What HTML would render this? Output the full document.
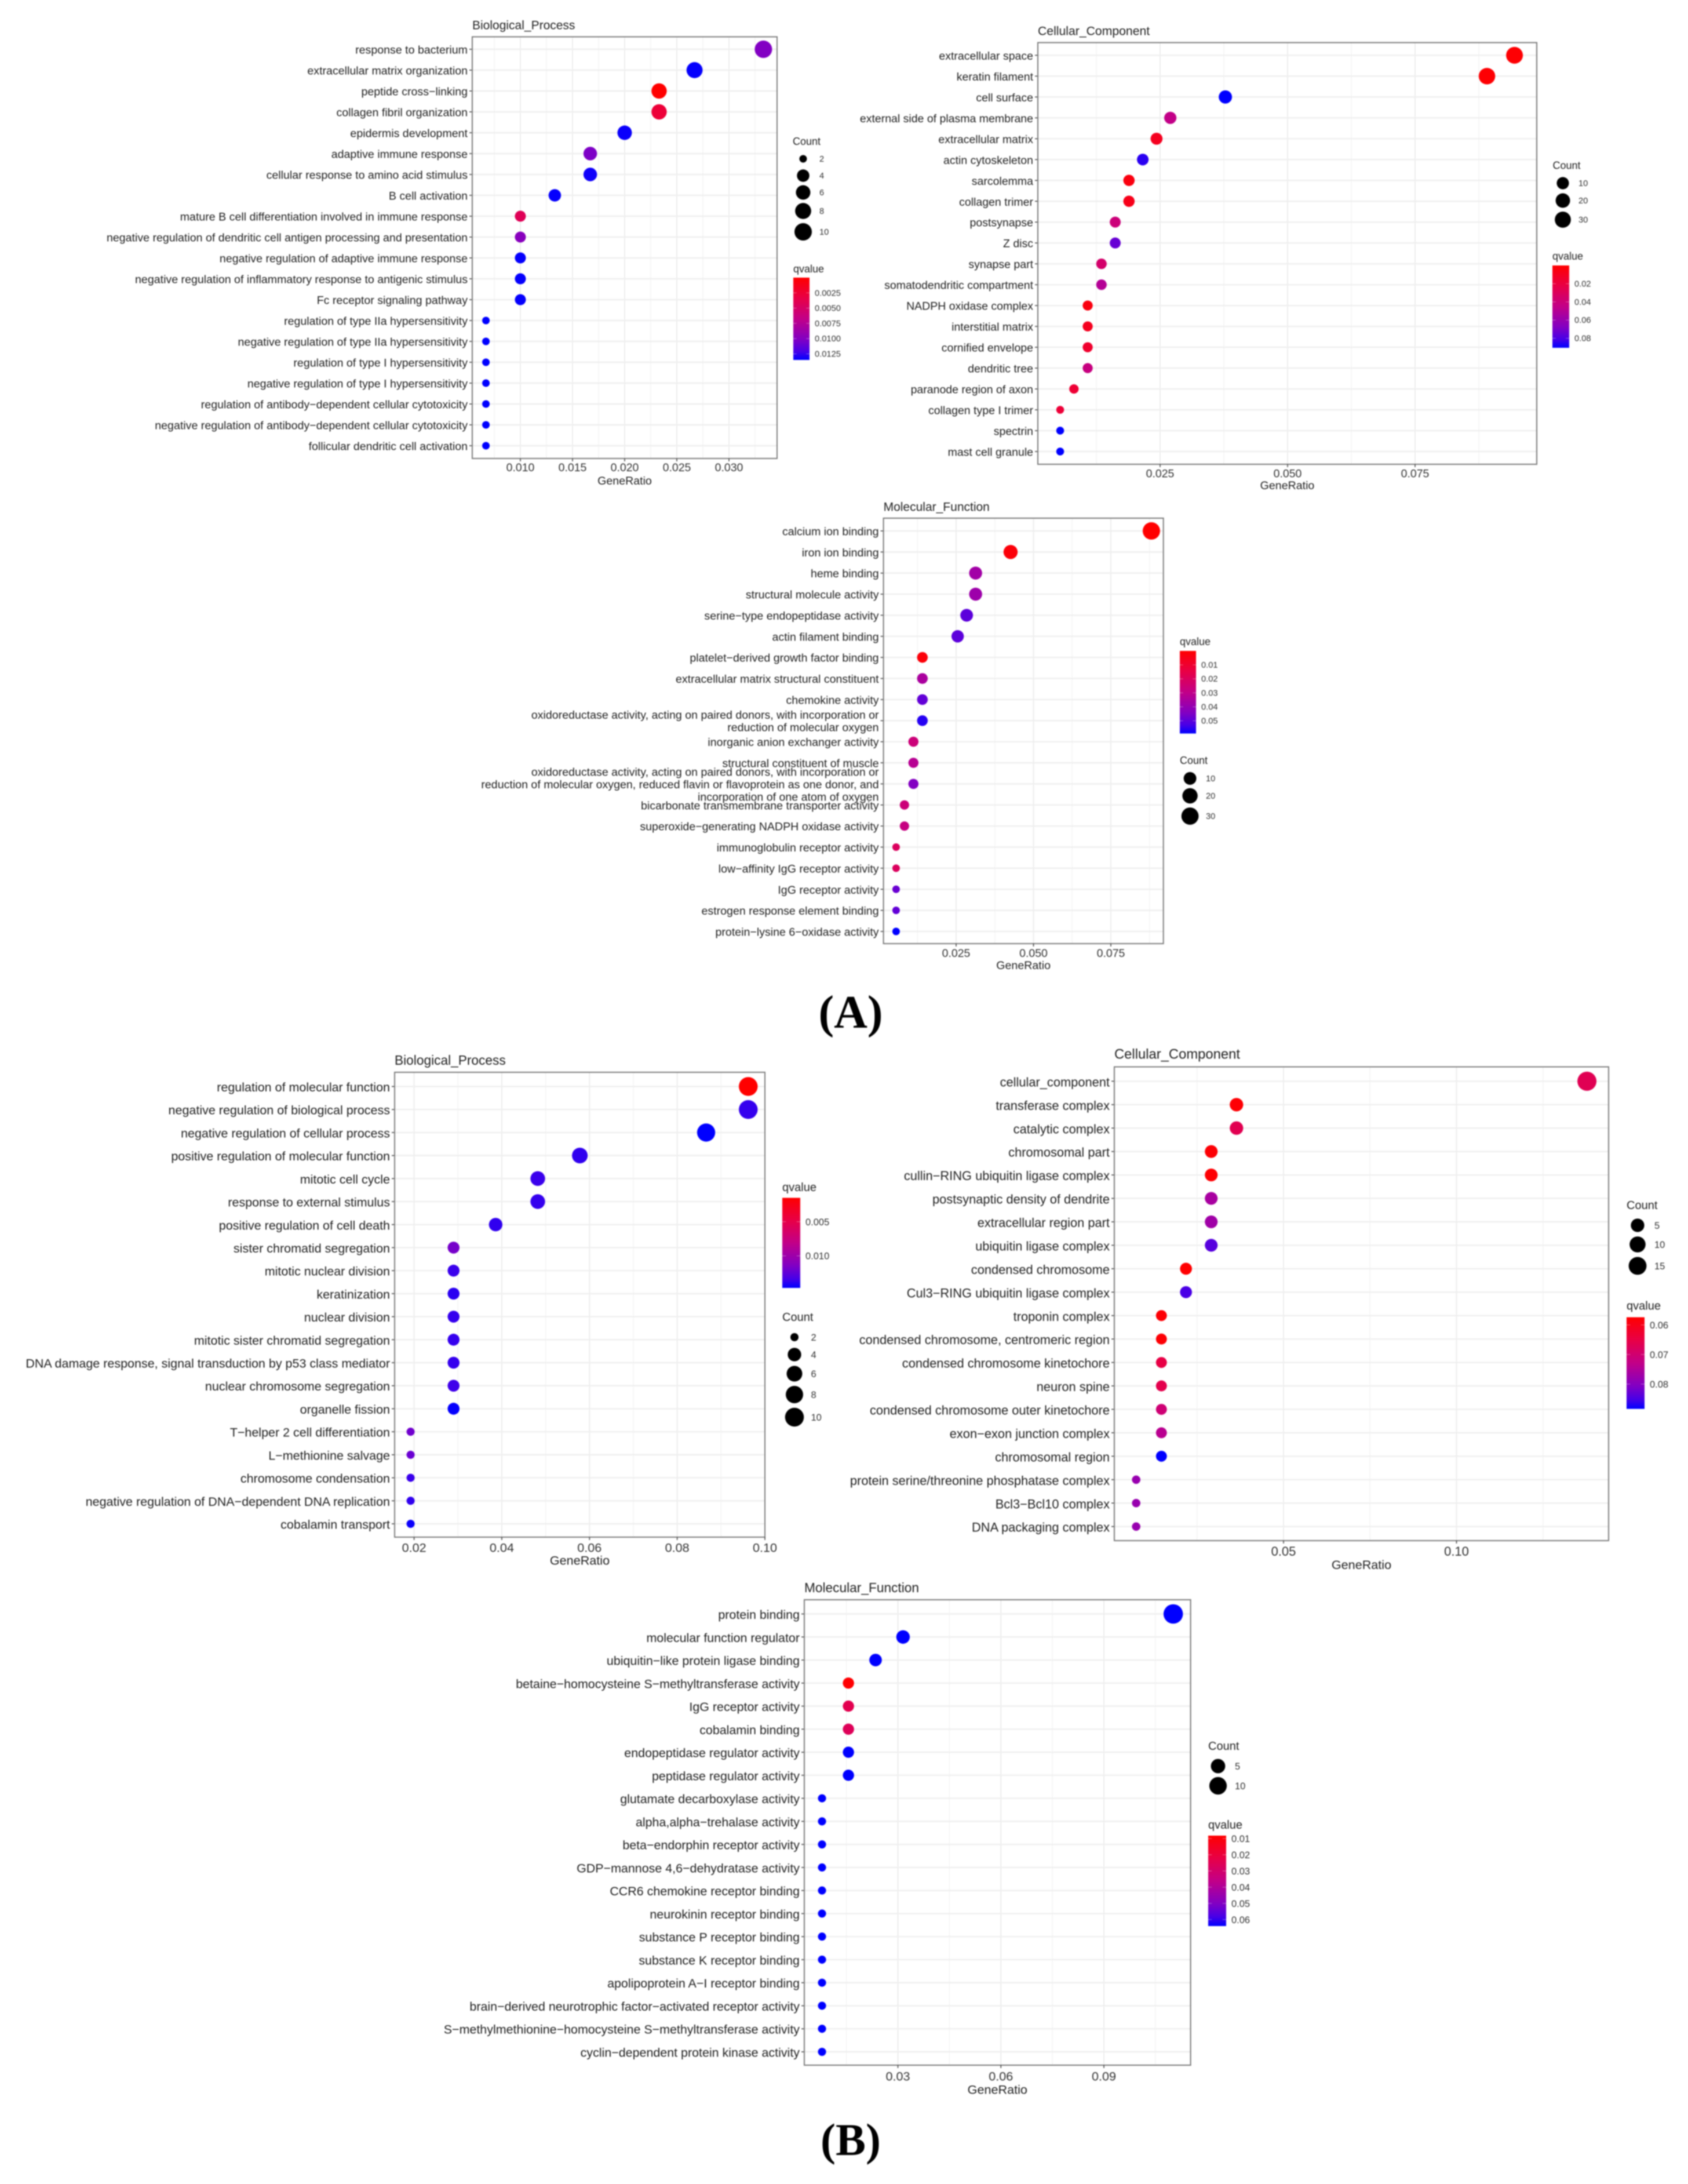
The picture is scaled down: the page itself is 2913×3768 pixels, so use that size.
<!DOCTYPE html>
<html lang="en">
<head>
<meta charset="utf-8">
<title>GO enrichment dot plots</title>
<style>
html,body{margin:0;padding:0;background:#fff;width:2913px;height:3768px;overflow:hidden}
#figure{display:block;filter:blur(1px);font-family:"Liberation Sans",Arial,sans-serif}
</style>
</head>
<body>
<svg id="figure" xmlns="http://www.w3.org/2000/svg" width="2913" height="3768" viewBox="0 0 2913 3768">
<rect width="2913" height="3768" fill="#fff"/>
<text x="1468" y="1773" text-anchor="middle" font-family="'Liberation Serif',serif" font-weight="bold" font-size="80">(A)</text>
<text x="1468" y="3718" text-anchor="middle" font-family="'Liberation Serif',serif" font-weight="bold" font-size="78">(B)</text>
</svg>
<script>
// ---------- Panel A: Biological Process ----------
const aBpTerms = ["response to bacterium","extracellular matrix organization","peptide cross\u2212linking","collagen fibril organization","epidermis development","adaptive immune response","cellular response to amino acid stimulus","B cell activation","mature B cell differentiation involved in immune response","negative regulation of dendritic cell antigen processing and presentation","negative regulation of adaptive immune response","negative regulation of inflammatory response to antigenic stimulus","Fc receptor signaling pathway","regulation of type IIa hypersensitivity","negative regulation of type IIa hypersensitivity","regulation of type I hypersensitivity","negative regulation of type I hypersensitivity","regulation of antibody\u2212dependent cellular cytotoxicity","negative regulation of antibody\u2212dependent cellular cytotoxicity","follicular dendritic cell activation"];
const aBpRatios = [0.0333,0.0267,0.0233,0.0233,0.0200,0.0167,0.0167,0.0133,0.0100,0.0100,0.0100,0.0100,0.0100,0.0067,0.0067,0.0067,0.0067,0.0067,0.0067,0.0067];
const aBpCounts = [10,8,7,7,6,5,5,4,3,3,3,3,3,2,2,2,2,2,2,2];
const aBpQ = [0.0101,0.0134,0,0.0027,0.0133,0.0103,0.0132,0.0134,0.0042,0.0098,0.0134,0.0134,0.0134,0.0135,0.0135,0.0135,0.0135,0.0135,0.0135,0.0135];
const aBpTickLabels = ["0.010","0.015","0.020","0.025","0.030"];
const aBpCountKeys = [2,4,6,8,10];
const aBpQKeys = ["0.0025","0.0050","0.0075","0.0100","0.0125"];

// ---------- Panel A: Cellular Component ----------
const aCcTerms = ["extracellular space","keratin filament","cell surface","external side of plasma membrane","extracellular matrix","actin cytoskeleton","sarcolemma","collagen trimer","postsynapse","Z disc","synapse part","somatodendritic compartment","NADPH oxidase complex","interstitial matrix","cornified envelope","dendritic tree","paranode region of axon","collagen type I trimer","spectrin","mast cell granule"];
const aCcRatios = [0.0945,0.0891,0.0378,0.0270,0.0243,0.0216,0.0189,0.0189,0.0162,0.0162,0.0135,0.0135,0.0108,0.0108,0.0108,0.0108,0.0081,0.0054,0.0054,0.0054];
const aCcCounts = [35,33,14,10,9,8,7,7,6,6,5,5,4,4,4,4,3,2,2,2];
const aCcQ = [0.001,0.001,0.0904,0.045,0.010,0.085,0.005,0.008,0.040,0.074,0.035,0.050,0.005,0.010,0.015,0.042,0.017,0.018,0.0904,0.0904];
const aCcTickLabels = ["0.025","0.050","0.075"];
const aCcCountKeys = [10,20,30];
const aCcQKeys = ["0.02","0.04","0.06","0.08"];

// ---------- Panel A: Molecular Function ----------
const aMfTerms = ["calcium ion binding","iron ion binding","heme binding","structural molecule activity","serine\u2212type endopeptidase activity","actin filament binding","platelet\u2212derived growth factor binding","extracellular matrix structural constituent","chemokine activity","oxidoreductase activity, acting on paired donors, with incorporation or\nreduction of molecular oxygen","inorganic anion exchanger activity","structural constituent of muscle","oxidoreductase activity, acting on paired donors, with incorporation or\nreduction of molecular oxygen, reduced flavin or flavoprotein as one donor, and\nincorporation of one atom of oxygen","bicarbonate transmembrane transporter activity","superoxide\u2212generating NADPH oxidase activity","immunoglobulin receptor activity","low\u2212affinity IgG receptor activity","IgG receptor activity","estrogen response element binding","protein\u2212lysine 6\u2212oxidase activity"];
const aMfRatios = [0.0881,0.0426,0.0313,0.0313,0.0284,0.0255,0.0141,0.0141,0.0141,0.0141,0.0112,0.0112,0.0112,0.0083,0.0083,0.0056,0.0056,0.0056,0.0056,0.0056];
const aMfCounts = [31,15,11,11,10,9,5,5,5,5,4,4,4,3,3,2,2,2,2,2];
const aMfQ = [0,0.002,0.037,0.038,0.050,0.050,0.002,0.035,0.049,0.056,0.026,0.032,0.044,0.026,0.028,0.020,0.020,0.048,0.049,0.059];
const aMfTickLabels = ["0.025","0.050","0.075"];
const aMfCountKeys = [10,20,30];
const aMfQKeys = ["0.01","0.02","0.03","0.04","0.05"];

// ---------- Panel B: Biological Process ----------
const bBpTerms = ["regulation of molecular function","negative regulation of biological process","negative regulation of cellular process","positive regulation of molecular function","mitotic cell cycle","response to external stimulus","positive regulation of cell death","sister chromatid segregation","mitotic nuclear division","keratinization","nuclear division","mitotic sister chromatid segregation","DNA damage response, signal transduction by p53 class mediator","nuclear chromosome segregation","organelle fission","T\u2212helper 2 cell differentiation","L\u2212methionine salvage","chromosome condensation","negative regulation of DNA\u2212dependent DNA replication","cobalamin transport"];
const bBpRatios = [0.0962,0.0962,0.0866,0.0578,0.0482,0.0482,0.0386,0.0290,0.0290,0.0290,0.0290,0.0290,0.0290,0.0290,0.0290,0.0192,0.0192,0.0192,0.0192,0.0192];
const bBpCounts = [10,10,9,6,5,5,4,3,3,3,3,3,3,3,3,2,2,2,2,2];
const bBpQ = [0.0015,0.0137,0.0147,0.0138,0.0136,0.0137,0.0138,0.0118,0.0136,0.0139,0.0137,0.0137,0.0137,0.0135,0.0146,0.0120,0.0122,0.0136,0.0138,0.0145];
const bBpTickLabels = ["0.02","0.04","0.06","0.08","0.10"];
const bBpCountKeys = [2,4,6,8,10];
const bBpQKeys = ["0.005","0.010"];

// ---------- Panel B: Cellular Component ----------
const bCcTerms = ["cellular_component","transferase complex","catalytic complex","chromosomal part","cullin\u2212RING ubiquitin ligase complex","postsynaptic density of dendrite","extracellular region part","ubiquitin ligase complex","condensed chromosome","Cul3\u2212RING ubiquitin ligase complex","troponin complex","condensed chromosome, centromeric region","condensed chromosome kinetochore","neuron spine","condensed chromosome outer kinetochore","exon\u2212exon junction complex","chromosomal region","protein serine/threonine phosphatase complex","Bcl3\u2212Bcl10 complex","DNA packaging complex"];
const bCcRatios = [0.1377,0.0364,0.0364,0.0291,0.0291,0.0291,0.0291,0.0291,0.0218,0.0218,0.0147,0.0147,0.0147,0.0147,0.0147,0.0147,0.0147,0.0074,0.0074,0.0074];
const bCcCounts = [19,5,5,4,4,4,4,4,3,3,2,2,2,2,2,2,2,1,1,1];
const bCcQ = [0.0667,0.0578,0.0665,0.0580,0.0578,0.0760,0.0770,0.0840,0.0575,0.0850,0.0580,0.0580,0.0650,0.0660,0.0705,0.0740,0.0884,0.0780,0.0780,0.0780];
const bCcTickLabels = ["0.05","0.10"];
const bCcCountKeys = [5,10,15];
const bCcQKeys = ["0.06","0.07","0.08"];

// ---------- Panel B: Molecular Function ----------
const bMfTerms = ["protein binding","molecular function regulator","ubiquitin\u2212like protein ligase binding","betaine\u2212homocysteine S\u2212methyltransferase activity","IgG receptor activity","cobalamin binding","endopeptidase regulator activity","peptidase regulator activity","glutamate decarboxylase activity","alpha,alpha\u2212trehalase activity","beta\u2212endorphin receptor activity","GDP\u2212mannose 4,6\u2212dehydratase activity","CCR6 chemokine receptor binding","neurokinin receptor binding","substance P receptor binding","substance K receptor binding","apolipoprotein A\u2212I receptor binding","brain\u2212derived neurotrophic factor\u2212activated receptor activity","S\u2212methylmethionine\u2212homocysteine S\u2212methyltransferase activity","cyclin\u2212dependent protein kinase activity"];
const bMfRatios = [0.1102,0.0315,0.0235,0.0156,0.0156,0.0156,0.0156,0.0156,0.0079,0.0079,0.0079,0.0079,0.0079,0.0079,0.0079,0.0079,0.0079,0.0079,0.0079,0.0079];
const bMfCounts = [14,4,3,2,2,2,2,2,1,1,1,1,1,1,1,1,1,1,1,1];
const bMfQ = [0.064,0.064,0.064,0.0085,0.024,0.026,0.064,0.064,0.064,0.064,0.064,0.064,0.064,0.064,0.064,0.064,0.064,0.064,0.064,0.064];
const bMfTickLabels = ["0.03","0.06","0.09"];
const bMfCountKeys = [5,10];
const bMfQKeys = ["0.01","0.02","0.03","0.04","0.05","0.06"];

// ---------- Layout (geometry only, no data) ----------
const layoutABp = {left:815,right:1341,top:63.5,bottom:791,rowFirst:85,rowLast:769,v0:0.010,p0:898,v1:0.030,p1:1258,dMin:13,dMax:30,qMin:0,qMax:0.0135,
  barX:1369,barW:28,barTop:479,barBottom:621,qTitleX:1369,qTitleY:463,qLabelX:1406,countTitleX:1368,countTitleY:243,keyX:1386,keyLabelX:1414,keyY:[274,303,332,364,400],
  titleY:43,tickY:806,axisY:829,fTerm:19.6,fTick:19.5,fAxis:19.6,fTitle:21,fLegT:18,fLegL:14.7,lineH:21.4};
const layoutACc = {left:1791,right:2652,top:73.5,bottom:801,rowFirst:95.4,rowLast:779,v0:0.025,p0:2002,v1:0.075,p1:2442,dMin:13.5,dMax:29,qMin:0,qMax:0.0904,
  barX:2679,barW:29,barTop:458,barBottom:600,qTitleX:2679,qTitleY:441,qLabelX:2717,countTitleX:2679.5,countTitleY:284.5,keyX:2697,keyLabelX:2724,keyY:[316,346,379],
  titleY:53,tickY:816.5,axisY:837,fTerm:19.5,fTick:19.5,fAxis:19.6,fTitle:21.2,fLegT:18,fLegL:14.7,lineH:21.4};
const layoutAMf = {left:1524.6,right:2007.7,top:894,bottom:1628,rowFirst:916,rowLast:1607,v0:0.025,p0:1650,v1:0.075,p1:1917,dMin:13,dMax:30,qMin:0,qMax:0.0591,
  barX:2036,barW:28,barTop:1123,barBottom:1265.5,qTitleX:2036,qTitleY:1106,qLabelX:2073,countTitleX:2036,countTitleY:1311,keyX:2053.6,keyLabelX:2081,keyY:[1343,1373,1408],
  titleY:874,tickY:1644,axisY:1665,fTerm:19.6,fTick:19.5,fAxis:19.6,fTitle:21,fLegT:18,fLegL:14.7,lineH:21.4};
const layoutBBp = {left:681,right:1320,top:1850,bottom:2652,rowFirst:1874.5,rowLast:2629,v0:0.02,p0:714.6,v1:0.10,p1:1320,dMin:14,dMax:32.5,qMin:0.0015,qMax:0.0147,
  barX:1350,barW:31,barTop:2066.6,barBottom:2222,qTitleX:1350,qTitleY:2048,qLabelX:1390,countTitleX:1350,countTitleY:2272,keyX:1371,keyLabelX:1399.5,keyY:[2307,2337,2370,2406,2445],
  titleY:1828,tickY:2669,axisY:2691,fTerm:21.5,fTick:21.6,fAxis:21.6,fTitle:22.7,fLegT:20,fLegL:16.5,lineH:23};
const layoutBCc = {left:1923,right:2776,top:1840.6,bottom:2658,rowFirst:1865.4,rowLast:2633.7,v0:0.05,p0:2215,v1:0.10,p1:2513.5,dMin:14.5,dMax:33,qMin:0.0574,qMax:0.0884,
  barX:2807,barW:31,barTop:2272.6,barBottom:2430.7,qTitleX:2807,qTitleY:2252.6,qLabelX:2847,countTitleX:2807,countTitleY:2079,keyX:2826,keyLabelX:2855,keyY:[2114,2147,2184],
  titleY:1818,tickY:2675.5,axisY:2698.5,fTerm:21.85,fTick:22,fAxis:21.6,fTitle:23.8,fLegT:20,fLegL:16.5,lineH:23};
const layoutBMf = {left:1388,right:2054.6,top:2760,bottom:3563,rowFirst:2784.5,rowLast:3540,v0:0.03,p0:1549.5,v1:0.09,p1:1905,dMin:14,dMax:33.5,qMin:0.0082,qMax:0.064,
  barX:2085,barW:31,barTop:3167,barBottom:3323,qTitleX:2085,qTitleY:3148,qLabelX:2125,countTitleX:2085,countTitleY:3012,keyX:2102,keyLabelX:2131,keyY:[3047,3081],
  titleY:2738,tickY:3581,axisY:3604,fTerm:21.45,fTick:21.6,fAxis:21.6,fTitle:22.7,fLegT:20,fLegL:16.5,lineH:23};

const panels = [
  {id:"a-biological-process",title:"Biological_Process",terms:aBpTerms,ratios:aBpRatios,counts:aBpCounts,q:aBpQ,ticks:aBpTickLabels,countKeys:aBpCountKeys,qKeys:aBpQKeys,L:layoutABp},
  {id:"a-cellular-component",title:"Cellular_Component",terms:aCcTerms,ratios:aCcRatios,counts:aCcCounts,q:aCcQ,ticks:aCcTickLabels,countKeys:aCcCountKeys,qKeys:aCcQKeys,L:layoutACc},
  {id:"a-molecular-function",title:"Molecular_Function",terms:aMfTerms,ratios:aMfRatios,counts:aMfCounts,q:aMfQ,ticks:aMfTickLabels,countKeys:aMfCountKeys,qKeys:aMfQKeys,L:layoutAMf},
  {id:"b-biological-process",title:"Biological_Process",terms:bBpTerms,ratios:bBpRatios,counts:bBpCounts,q:bBpQ,ticks:bBpTickLabels,countKeys:bBpCountKeys,qKeys:bBpQKeys,L:layoutBBp},
  {id:"b-cellular-component",title:"Cellular_Component",terms:bCcTerms,ratios:bCcRatios,counts:bCcCounts,q:bCcQ,ticks:bCcTickLabels,countKeys:bCcCountKeys,qKeys:bCcQKeys,L:layoutBCc},
  {id:"b-molecular-function",title:"Molecular_Function",terms:bMfTerms,ratios:bMfRatios,counts:bMfCounts,q:bMfQ,ticks:bMfTickLabels,countKeys:bMfCountKeys,qKeys:bMfQKeys,L:layoutBMf}
];

const NS = "http://www.w3.org/2000/svg";
const root = document.getElementById("figure");
const rampStops = [[0,255,0,0],[0.25,232,0,70],[0.5,194,0,136],[0.75,130,0,195],[0.9,70,0,232],[1,0,0,255]];

function ramp(t){
  t = Math.max(0,Math.min(1,t));
  for(let i=1;i<rampStops.length;i++){
    const a=rampStops[i-1], b=rampStops[i];
    if(t<=b[0]){
      const f=(t-a[0])/(b[0]-a[0]);
      return "rgb("+Math.round(a[1]+(b[1]-a[1])*f)+","+Math.round(a[2]+(b[2]-a[2])*f)+","+Math.round(a[3]+(b[3]-a[3])*f)+")";
    }
  }
  return "rgb(0,0,255)";
}
function mk(tag,attrs,parent){
  const el=document.createElementNS(NS,tag);
  for(const k in attrs){el.setAttribute(k,attrs[k]);}
  parent.appendChild(el);
  return el;
}
function label(str,x,y,size,anchor,fill,parent){
  const el=mk("text",{x:x,y:y,"font-size":size,"text-anchor":anchor,"dominant-baseline":"central",fill:fill},parent);
  el.textContent=str;
  return el;
}

panels.forEach(function(p,pi){
  const L=p.L;
  const xOf=function(v){return L.p0+(v-L.v0)*(L.p1-L.p0)/(L.v1-L.v0);};
  const n=p.terms.length;
  const yOf=function(i){return L.rowFirst+i*(L.rowLast-L.rowFirst)/(n-1);};
  const cMin=Math.min.apply(null,p.counts), cMax=Math.max.apply(null,p.counts);
  const dOf=function(c){return L.dMin+(L.dMax-L.dMin)*Math.sqrt(Math.max(0,(c-cMin)/(cMax-cMin)));};
  const colorOf=function(q){return ramp((q-L.qMin)/(L.qMax-L.qMin));};
  const qyOf=function(q){return L.barTop+(q-L.qMin)/(L.qMax-L.qMin)*(L.barBottom-L.barTop);};

  const g=mk("g",{},root);
  
  

  const title=label(p.title,L.left,L.titleY+1,L.fTitle,"start","#222",g);
  
  

  const bg=mk("rect",{x:L.left,y:L.top,width:L.right-L.left,height:L.bottom-L.top,fill:"#fff"},g);
  
  

  // vertical grid lines
  const tickVals=p.ticks.map(parseFloat);
  const step=tickVals.length>1?tickVals[1]-tickVals[0]:0.05;
  for(let v=tickVals[0]-step/2;xOf(v)<L.right;v+=step){
    if(xOf(v)<=L.left){continue;}
    const m=mk("line",{x1:xOf(v),x2:xOf(v),y1:L.top,y2:L.bottom,stroke:"#f1f1f1","stroke-width":1.2},g);
    
    
  }
  tickVals.forEach(function(v){
    const m=mk("line",{x1:xOf(v),x2:xOf(v),y1:L.top,y2:L.bottom,stroke:"#ebebeb","stroke-width":1.8},g);
    
    
  });

  // rows: gridline, tick, label
  p.terms.forEach(function(term,i){
    const y=yOf(i);
    const grid=mk("line",{x1:L.left,x2:L.right,y1:y,y2:y,stroke:"#efefef","stroke-width":2.4},g);
    
    
    const tick=mk("line",{x1:L.left-5,x2:L.left,y1:y,y2:y,stroke:"#444","stroke-width":1.5},g);
    
    
    const lines=term.split("\n");
    lines.forEach(function(line,j){
      const t=label(line,L.left-8,y+1.5+(j-(lines.length-1)/2)*L.lineH,L.fTerm,"end","#222",g);
      
      
    });
  });

  // dots
  p.terms.forEach(function(term,i){
    const dot=mk("circle",{cx:xOf(p.ratios[i]),cy:yOf(i),r:dOf(p.counts[i])/2,fill:colorOf(p.q[i])},g);
    
    
  });

  // border
  const border=mk("rect",{x:L.left,y:L.top,width:L.right-L.left,height:L.bottom-L.top,fill:"none",stroke:"#7d7d7d","stroke-width":2},g);
  
  

  // x axis
  p.ticks.forEach(function(lbl){
    const v=parseFloat(lbl);
    const tick=mk("line",{x1:xOf(v),x2:xOf(v),y1:L.bottom,y2:L.bottom+5,stroke:"#444","stroke-width":1.5},g);
    
    
    const t=label(lbl,xOf(v),L.tickY+1,L.fTick,"middle","#333",g);
    
    
  });
  const axisTitle=label("GeneRatio",(L.left+L.right)/2,L.axisY+1,L.fAxis,"middle","#222",g);
  
  

  // count legend
  const countTitle=label("Count",L.countTitleX,L.countTitleY+1,L.fLegT,"start","#222",g);
  
  
  p.countKeys.forEach(function(c,i){
    const k=mk("circle",{cx:L.keyX,cy:L.keyY[i],r:dOf(c)/2,fill:"#000"},g);
    
    
    const t=label(String(c),L.keyLabelX,L.keyY[i]+1,L.fLegL,"start","#333",g);
    
    
  });

  // qvalue legend
  const qTitle=label("qvalue",L.qTitleX,L.qTitleY+1,L.fLegT,"start","#222",g);
  
  
  const defs=mk("defs",{},g);
  const grad=mk("linearGradient",{id:"qgrad"+pi,x1:0,y1:0,x2:0,y2:1},defs);
  rampStops.forEach(function(s){
    mk("stop",{offset:s[0],"stop-color":ramp(s[0])},grad);
  });
  const bar=mk("rect",{x:L.barX,y:L.barTop,width:L.barW,height:L.barBottom-L.barTop,fill:"url(#qgrad"+pi+")"},g);
  
  
  p.qKeys.forEach(function(lbl){
    const y=qyOf(parseFloat(lbl));
    const t1=mk("line",{x1:L.barX,x2:L.barX+L.barW/5,y1:y,y2:y,stroke:"#fff","stroke-opacity":0.4,"stroke-width":1},g);
    
    
    const t2=mk("line",{x1:L.barX+L.barW*0.8,x2:L.barX+L.barW,y1:y,y2:y,stroke:"#fff","stroke-opacity":0.4,"stroke-width":1},g);
    
    
    const t=label(lbl,L.qLabelX,y+1,L.fLegL,"start","#333",g);
    
    
  });
});
</script>
</body>
</html>
